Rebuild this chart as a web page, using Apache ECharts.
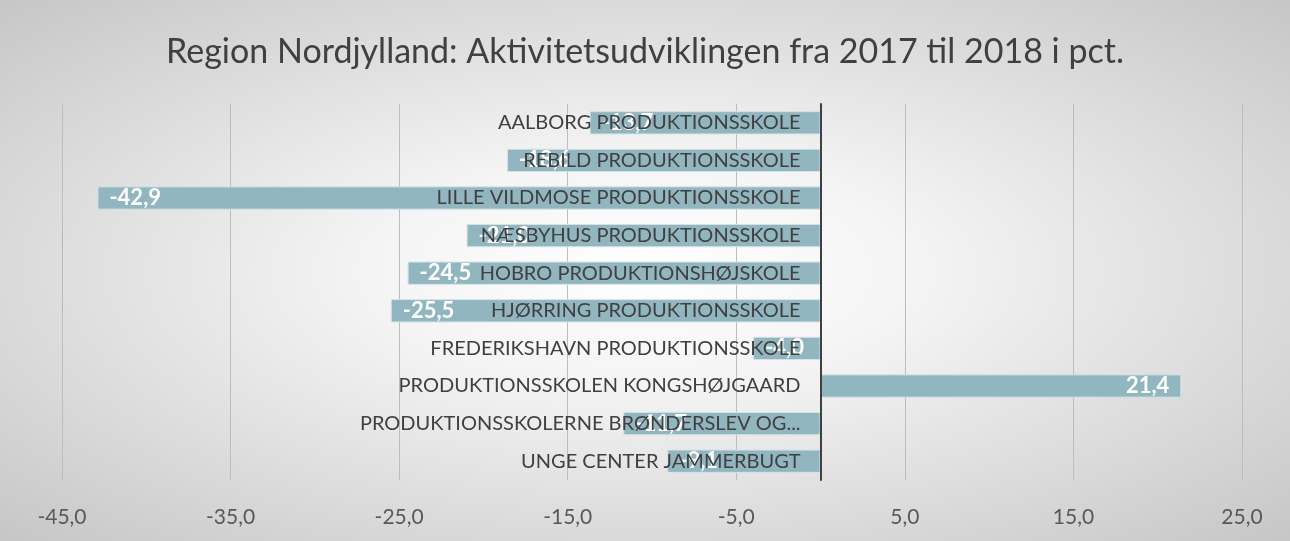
<!DOCTYPE html>
<html>
<head>
<meta charset="utf-8">
<script src="https://cdn.jsdelivr.net/npm/echarts@6/dist/echarts.min.js"></script>
<style>
  html, body { margin: 0; padding: 0; }
  #chart {
    width: 1290px;
    height: 541px;
    background: radial-gradient(ellipse farthest-corner at 50% 50%, #ffffff 0%, #f4f4f4 30%, #c6c6c6 100%);
  }
</style>
</head>
<body>
<div id="chart"></div>
<script>
const schools = [
  "AALBORG PRODUKTIONSSKOLE",
  "REBILD PRODUKTIONSSKOLE",
  "LILLE VILDMOSE PRODUKTIONSSKOLE",
  "NÆSBYHUS PRODUKTIONSSKOLE",
  "HOBRO PRODUKTIONSHØJSKOLE",
  "HJØRRING PRODUKTIONSSKOLE",
  "FREDERIKSHAVN PRODUKTIONSSKOLE",
  "PRODUKTIONSSKOLEN KONGSHØJGAARD",
  "PRODUKTIONSSKOLERNE BRØNDERSLEV OG...",
  "UNGE CENTER JAMMERBUGT",
];
const change = [-13.7, -18.6, -42.9, -21.0, -24.5, -25.5, -4.0, 21.4, -11.7, -9.1];

const axisMin = -45;
const axisMax = 25;
const axisStep = 10;

const fmt = (v) => v.toFixed(1).replace(".", ",");

// plot area
const gridLeft = 62, gridRight = 48;
const plotWidth = 1290 - gridLeft - gridRight;
// shift the category axis (line + labels) over to value 0
const zeroShift = ((0 - axisMin) / (axisMax - axisMin)) * plotWidth;

const chart = echarts.init(document.getElementById("chart"));

chart.setOption({
  backgroundColor: "transparent",
  title: {
    text: "Region Nordjylland: Aktivitetsudviklingen fra 2017 til 2018 i pct.",
    left: "center",
    top: 30,
    textStyle: {
      fontFamily: "Lato",
      fontWeight: "normal",
      fontSize: 34,
      color: "#404040",
    },
  },
  grid: {
    left: gridLeft,
    right: gridRight,
    top: 104,
    bottom: 61,
    outerBoundsMode: "none",
    containLabel: false,
  },
  xAxis: {
    type: "value",
    min: axisMin,
    max: axisMax,
    interval: axisStep,
    axisLine: { show: false },
    axisTick: { show: false },
    axisLabel: {
      formatter: fmt,
      color: "#595959",
      fontFamily: "Lato",
      fontSize: 21,
      margin: 27,
    },
    splitLine: { lineStyle: { color: "#bdbdbd", width: 1 } },
  },
  yAxis: {
    type: "category",
    data: schools,
    inverse: true,
    position: "left",
    offset: -zeroShift,
    z: 5,
    axisLine: { onZero: false, lineStyle: { color: "#404040", width: 2 } },
    axisTick: { show: false },
    axisLabel: {
      color: "#404040",
      fontFamily: "Lato",
      fontSize: 20,
      margin: 20,
    },
  },
  series: [
    {
      type: "bar",
      barCategoryGap: "38%",
      data: change.map((v) => ({
        value: v,
        label: { position: v < 0 ? "insideLeft" : "insideRight" },
      })),
      itemStyle: {
        color: "#92b6bf",
        borderColor: "#d4e4e8",
        borderWidth: 1,
      },
      label: {
        show: true,
        distance: 12,
        formatter: (p) => fmt(p.value),
        color: "#ffffff",
        fontFamily: "Lato",
        fontWeight: "bold",
        fontSize: 22,
      },
    },
  ],
});
</script>
</body>
</html>
